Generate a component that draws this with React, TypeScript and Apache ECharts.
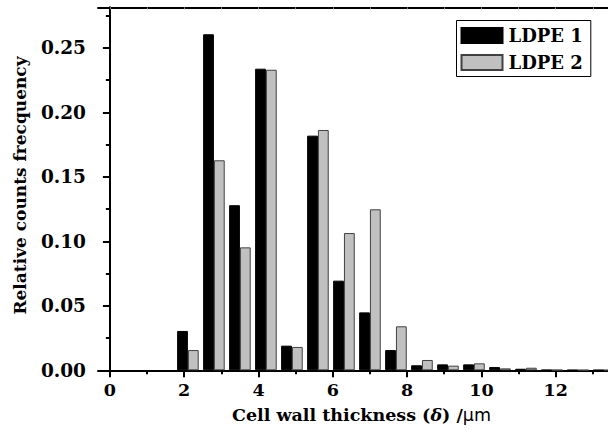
import React, { useEffect, useRef } from "react";
import * as echarts from "echarts";

const binCenters = [2.1, 2.8, 3.5, 4.2, 4.9, 5.6, 6.3, 7.0, 7.7, 8.4, 9.1, 9.8, 10.5, 11.2, 11.9, 12.6, 13.3];
const ldpe1 = [0.0305, 0.2605, 0.128, 0.2338, 0.0191, 0.1819, 0.0695, 0.0449, 0.0157, 0.0039, 0.0046, 0.0046, 0.0025, 0.0012, 0.0003, 0.0002, 0.0002];
const ldpe2 = [0.0157, 0.1628, 0.0953, 0.233, 0.0181, 0.1863, 0.1064, 0.1248, 0.0341, 0.008, 0.0036, 0.0054, 0.0015, 0.002, 0.0003, 0.0002, 0.0002];
const xMajorTicks = [0, 2, 4, 6, 8, 10, 12, 14];
const xLabels = [0, 2, 4, 6, 8, 10, 12];
const xMinorTicks = [1, 3, 5, 7, 9, 11, 13];
const yMajorTicks = [0, 0.05, 0.1, 0.15, 0.2, 0.25];
const yMinorTicks = [0.025, 0.075, 0.125, 0.175, 0.225, 0.275];

const FONT = "DejaVu Serif";

export default function App() {
  const ref = useRef<HTMLDivElement>(null);
  useEffect(() => {
    const chart = echarts.init(ref.current!, undefined, { renderer: "svg" });
    const xmin = -0.32;
    const xmax = 14;
    const ymax = 0.2814;
    const baseX = {
      type: "value",
      min: xmin,
      max: xmax,
      splitLine: { show: false },
    };
    const baseY = {
      type: "value",
      min: 0,
      max: ymax,
      splitLine: { show: false },
    };
    chart.setOption({
      animation: false,
      backgroundColor: "#fff",
      grid: {
        left: 98,
        top: 7.3,
        width: 532,
        height: 363,
        outerBoundsMode: "none",
        containLabel: false,
      },
      legend: {
        orient: "vertical",
        left: 456.5,
        top: 20.5,
        padding: [6, 8, 5, 4],
        itemWidth: 41,
        itemHeight: 15,
        itemGap: 9,
        borderColor: "#000",
        borderWidth: 1,
        icon: "rect",
        textStyle: { fontFamily: FONT, fontWeight: "bold", fontSize: 18, color: "#000", padding: [0, 0, 0, 1] },
        data: ["LDPE 1", "LDPE 2"],
      },
      xAxis: [
        {
          ...baseX,
          position: "bottom",
          axisLine: { show: true, lineStyle: { color: "#000", width: 2 } },
          axisTick: { show: true, inside: false, length: 7, customValues: xMajorTicks, lineStyle: { color: "#000", width: 2 } },
          axisLabel: {
            customValues: xLabels,
            margin: 11,
            fontFamily: FONT,
            fontWeight: "bold",
            fontSize: 17.5,
            color: "#000",
          },
        },
        {
          ...baseX,
          position: "bottom",
          axisLine: { show: false },
          axisTick: { show: true, inside: false, length: 4, customValues: xMinorTicks, lineStyle: { color: "#000", width: 2 } },
          axisLabel: { show: false },
        },
        {
          ...baseX,
          position: "top",
          axisLine: { show: true, lineStyle: { color: "#000", width: 2 } },
          axisTick: { show: true, inside: true, length: 2, customValues: [...xMajorTicks, ...xMinorTicks], lineStyle: { color: "#888", width: 1 } },
          axisLabel: { show: false },
        },
      ],
      yAxis: [
        {
          ...baseY,
          position: "left",
          axisLine: { show: true, lineStyle: { color: "#000", width: 2 } },
          axisTick: { show: true, inside: false, length: 7, customValues: yMajorTicks, lineStyle: { color: "#000", width: 2 } },
          axisLabel: {
            customValues: yMajorTicks,
            formatter: (v: number) => v.toFixed(2),
            margin: 12,
            fontFamily: FONT,
            fontWeight: "bold",
            fontSize: 18.5,
            color: "#000",
          },
        },
        {
          ...baseY,
          position: "left",
          axisLine: { show: false },
          axisTick: { show: true, inside: false, length: 4, customValues: yMinorTicks, lineStyle: { color: "#000", width: 2 } },
          axisLabel: { show: false },
        },
      ],
      graphic: [
        {
          type: "text",
          x: 20,
          y: 185.5,
          rotation: Math.PI / 2,
          style: {
            text: "Relative counts frecquency",
            fontFamily: FONT,
            fontWeight: "bold",
            fontSize: 17,
            fill: "#000",
            align: "center",
            verticalAlign: "middle",
          },
        },
        {
          type: "text",
          x: 361.5,
          y: 414.5,
          style: {
            text: "{a|Cell wall thickness (}{i|δ}{a|) /}{u|μm}",
            align: "center",
            verticalAlign: "middle",
            rich: {
              a: { fontFamily: FONT, fontWeight: "bold", fontSize: 17.5, fill: "#000" },
              i: { fontFamily: FONT, fontWeight: "bold", fontStyle: "italic", fontSize: 17.5, fill: "#000" },
              u: { fontFamily: "DejaVu Sans", fontWeight: "normal", fontSize: 17.5, fill: "#000" },
            },
          },
        },
      ],
      series: [
        {
          name: "LDPE 1",
          type: "bar",
          xAxisIndex: 0,
          yAxisIndex: 0,
          barWidth: 10.8,
          barGap: "0%",
          data: binCenters.map((x, i) => [x, ldpe1[i]]),
          itemStyle: { color: "#000", borderColor: "#000", borderWidth: 1 },
        },
        {
          name: "LDPE 2",
          type: "bar",
          xAxisIndex: 0,
          yAxisIndex: 0,
          barWidth: 10.8,
          barGap: "0%",
          data: binCenters.map((x, i) => [x, ldpe2[i]]),
          itemStyle: { color: "#c0c0c0", borderColor: "#404040", borderWidth: 1 },
        },
      ],
    });
    return () => chart.dispose();
  }, []);
  return <div ref={ref} style={{ width: 608, height: 434, position: "absolute", left: 0, top: 0 }} />;
}
